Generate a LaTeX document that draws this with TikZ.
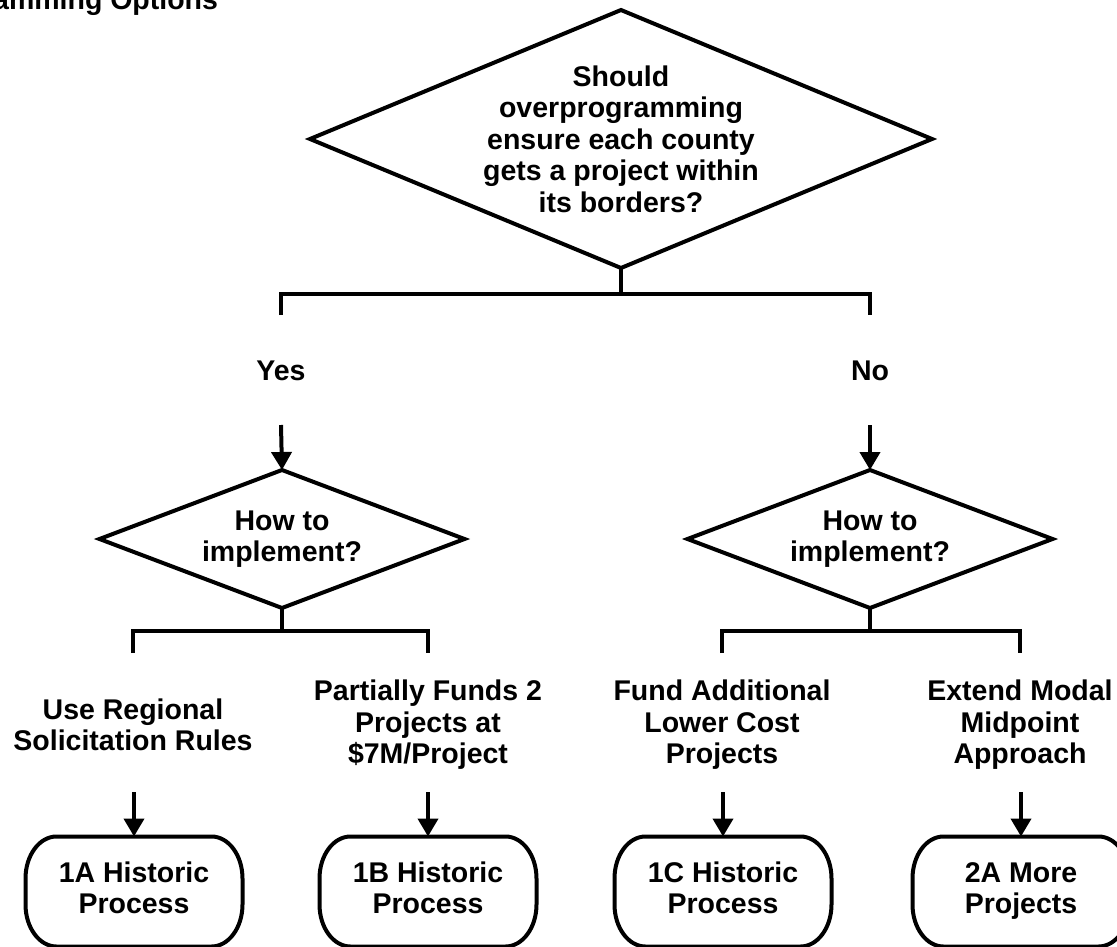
\documentclass[tikz,border=0pt]{standalone}
\usepackage{fontspec}
\setmainfont{Liberation Sans}
\usetikzlibrary{arrows.meta}
\begin{document}
\begin{tikzpicture}[x=1pt,y=-1pt,
  lbl/.style={font=\bfseries\fontsize{28.5}{31.5}\selectfont, align=center, inner sep=0pt, outer sep=0pt},
  dia/.style={lbl, rectangle},
  wire/.style={line width=4pt},
  arr/.style={line width=4pt, -{Triangle[width=20pt,length=18pt]}},
  endbox/.style={lbl, minimum width=217pt, minimum height=110pt}
  ]
\useasboundingbox (0,0) rectangle (1117,947);
\clip (0,0) rectangle (1117,947);

\node[lbl, anchor=base east] (title) at (218,10) {amming Options};

% decisions
\node[dia, minimum width=622pt, minimum height=258pt] (q1) at (621,139)
  {Should\\overprogramming\\ensure each county\\gets a project within\\its borders?};
\node[lbl] (yes) at (281,371) {Yes};
\node[lbl] (no)  at (870,371) {No};
\node[dia, minimum width=365pt, minimum height=138pt] (q2) at (282,539) {How to\\implement?};
\node[dia, minimum width=365pt, minimum height=138pt] (q3) at (870,539) {How to\\implement?};
\foreach \q in {q1,q2,q3}{
  \draw[wire, line join=miter] (\q.north) -- (\q.east) -- (\q.south) -- (\q.west) -- cycle;
}

% option labels
\node[lbl] (o1) at (133,725) {Use Regional\\Solicitation Rules};
\node[lbl] (o2) at (428,725) {Partially Funds 2\\Projects at\\\$7M/Project};
\node[lbl] (o3) at (722,725) {Fund Additional\\Lower Cost\\Projects};
\node[lbl] (o4) at (1020,725) {Extend Modal\\Midpoint\\Approach};

% end boxes
\node[endbox] (b1) at (134,891.5) {\strut 1A Historic\\Process\strut};
\node[endbox] (b2) at (428,891.5) {\strut 1B Historic\\Process\strut};
\node[endbox] (b3) at (723,891.5) {\strut 1C Historic\\Process\strut};
\node[endbox] (b4) at (1021,891.5) {\strut 2A More\\Projects\strut};
\foreach \b in {b1,b2,b3,b4}{
  \draw[wire] ([xshift=31pt]\b.north west) -- ([xshift=-31pt]\b.north east)
    arc[start angle=90, end angle=0, x radius=31pt, y radius=42pt]
    -- ([yshift=42pt]\b.south east)
    arc[start angle=0, end angle=-90, x radius=31pt, y radius=42pt]
    -- ([xshift=31pt]\b.south west)
    arc[start angle=270, end angle=180, x radius=31pt, y radius=42pt]
    -- ([yshift=-42pt]\b.north west)
    arc[start angle=180, end angle=90, x radius=31pt, y radius=42pt] -- cycle;
}

% top split
\coordinate (j1) at (621,294);
\coordinate (d1) at (281,315);
\coordinate (d2) at (870,315);
\draw[wire] (q1.south) -- (j1);
\draw[wire] (d1) |- (j1) -| (d2);

% arrows to second diamonds
\coordinate (a1) at (281,425);
\coordinate (a2) at (870,425);
\draw[arr] (a1) -- (q2.north);
\draw[arr] (a2) -- (q3.north);

% lower splits
\coordinate (j2) at (282,631);
\coordinate (j3) at (870,631);
\coordinate (e1) at (133,653);
\coordinate (e2) at (428,653);
\coordinate (e3) at (722,653);
\coordinate (e4) at (1020,653);
\draw[wire] (q2.south) -- (j2);
\draw[wire] (q3.south) -- (j3);
\draw[wire] (e1) |- (j2) -| (e2);
\draw[wire] (e3) |- (j3) -| (e4);

% arrows to end boxes
\coordinate (s1) at (134,792);
\coordinate (s2) at (428,792);
\coordinate (s3) at (723,792);
\coordinate (s4) at (1021,792);
\draw[arr] (s1) -- (b1.north);
\draw[arr] (s2) -- (b2.north);
\draw[arr] (s3) -- (b3.north);
\draw[arr] (s4) -- (b4.north);
\end{tikzpicture}
\end{document}
